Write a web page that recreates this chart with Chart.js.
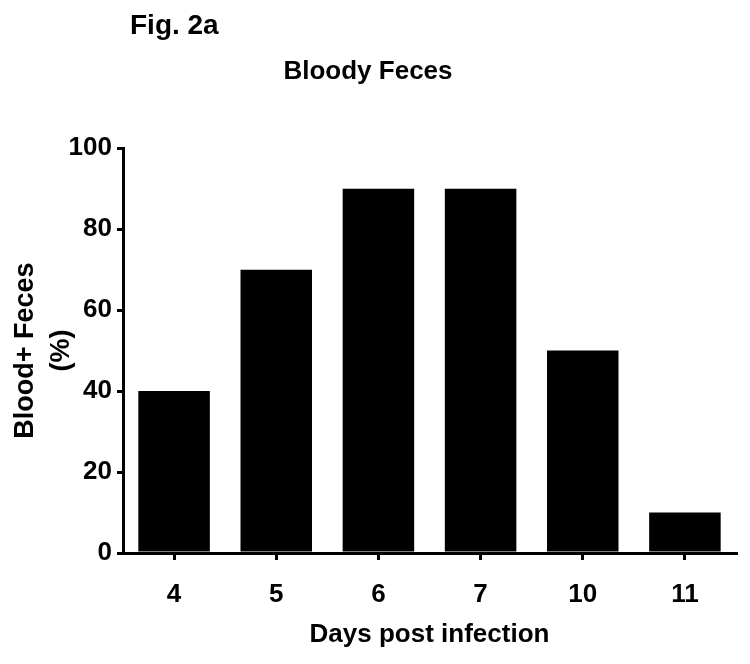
<!DOCTYPE html>
<html>
<head>
<meta charset="utf-8">
<script src="https://cdn.jsdelivr.net/npm/chart.js@4"></script>
<style>
  html, body { margin: 0; padding: 0; background: #fff; }
  #wrap { width: 750px; height: 664px; }
</style>
</head>
<body>
<div id="wrap"><canvas id="chart" width="750" height="664"></canvas></div>
<script>
// Datos
const dias = ['4', '5', '6', '7', '10', '11'];
const porcentajeSangre = [40, 70, 90, 90, 50, 10];
const yTicks = [0, 20, 40, 60, 80, 100];

const FONT = "'Liberation Sans', Arial, sans-serif";

// Etiqueta "Fig. 2a" arriba a la izquierda
const figLabel = {
    id: 'figLabel',
    afterDraw(chart) {
        const c = chart.ctx;
        c.save();
        c.fillStyle = '#000';
        c.font = 'bold 28px ' + FONT;
        c.textAlign = 'left';
        c.textBaseline = 'alphabetic';
        c.fillText('Fig. 2a', 130, 34);
        c.restore();
    }
};

new Chart(document.getElementById('chart'), {
    type: 'bar',
    data: {
        labels: dias,
        datasets: [{
            data: porcentajeSangre,
            backgroundColor: '#000',
            borderWidth: 0,
            barPercentage: 0.7,
            categoryPercentage: 1
        }]
    },
    options: {
        responsive: false,
        animation: false,
        layout: { padding: { left: 0, right: 14, top: 0, bottom: 0 } },
        plugins: {
            legend: { display: false },
            tooltip: { enabled: false },
            title: {
                display: true,
                text: 'Bloody Feces',
                color: '#000',
                font: { family: FONT, size: 26, weight: 'bold', lineHeight: 1.2 },
                padding: { top: 56, bottom: 61 }
            }
        },
        scales: {
            x: {
                offset: true,
                afterFit(scale) { scale.height = 111; },
                border: { display: true, color: '#000', width: 3 },
                grid: {
                    offset: false,
                    drawOnChartArea: false,
                    drawTicks: true,
                    tickLength: 7,
                    lineWidth: 3,
                    color: '#000'
                },
                ticks: {
                    color: '#000',
                    padding: 19,
                    font: { family: FONT, size: 26, weight: 'bold', lineHeight: 1.2 }
                },
                title: {
                    display: true,
                    text: 'Days post infection',
                    color: '#000',
                    font: { family: FONT, size: 26, weight: 'bold', lineHeight: 1.2 },
                    padding: { top: 8, bottom: 14 }
                }
            },
            y: {
                min: 0,
                max: 100,
                afterFit(scale) { scale.width = 123; },
                afterBuildTicks(scale) { scale.ticks = yTicks.map(v => ({ value: v })); },
                border: { display: true, color: '#000', width: 3 },
                grid: {
                    drawOnChartArea: false,
                    drawTicks: true,
                    tickLength: 6,
                    lineWidth: 3,
                    color: '#000'
                },
                ticks: {
                    color: '#000',
                    padding: 5,
                    font: { family: FONT, size: 26, weight: 'bold', lineHeight: 1.2 }
                },
                title: {
                    display: true,
                    text: ['Blood+ Feces', '(%)'],
                    color: '#000',
                    font: { family: FONT, size: 27, weight: 'bold', lineHeight: '36px' },
                    padding: { top: 8, bottom: 0 }
                }
            }
        }
    },
    plugins: [figLabel]
});
</script>
</body>
</html>
